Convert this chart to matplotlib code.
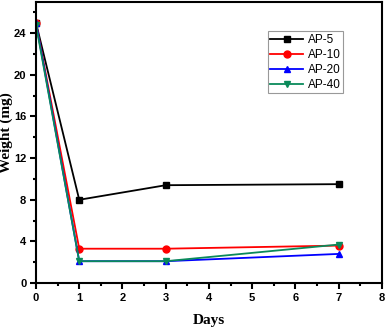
import matplotlib.pyplot as plt
from matplotlib.ticker import MultipleLocator

days = [0, 1, 3, 7]
ap5 = [25.0, 8.0, 9.4, 9.5]
ap10 = [25.0, 3.3, 3.3, 3.6]
ap20 = [25.0, 2.1, 2.1, 2.8]
ap40 = [24.8, 2.1, 2.1, 3.7]

series = [
    ('AP-5', ap5, 'black', 's'),
    ('AP-10', ap10, 'red', 'o'),
    ('AP-20', ap20, 'blue', '^'),
    ('AP-40', ap40, '#0a8a5a', 'v'),
]

fig = plt.figure(figsize=(3.87, 3.28), dpi=100)
ax = fig.add_axes([0.093, 0.137, 0.894, 0.857])

for name, vals, col, mk in series:
    ax.plot(days, vals, color=col, marker=mk, markersize=5, linewidth=1.3, label=name)

ax.set_xlim(0, 8)
ax.set_ylim(0, 27)
ax.xaxis.set_major_locator(MultipleLocator(1))
ax.xaxis.set_minor_locator(MultipleLocator(0.5))
ax.yaxis.set_major_locator(MultipleLocator(4))
ax.yaxis.set_minor_locator(MultipleLocator(2))
ax.tick_params(which='both', direction='out', width=1.5, top=False, right=False)
ax.tick_params(which='major', length=4, pad=3)
ax.tick_params(which='minor', length=2.5)
for s in ax.spines.values():
    s.set_linewidth(1.5)
for lab in ax.get_xticklabels() + ax.get_yticklabels():
    lab.set_fontfamily('Liberation Sans')
    lab.set_fontweight('bold')
    lab.set_fontsize(8)

ax.set_xlabel('Days', fontfamily='Liberation Serif', fontweight='bold', fontsize=11)
ax.set_ylabel('Weight (mg)', fontfamily='Liberation Serif', fontweight='bold', fontsize=11)
ax.xaxis.set_label_coords(0.5, -0.11)
ax.yaxis.set_label_coords(-0.066, 0.535)

leg = ax.legend(loc='upper left', bbox_to_anchor=(0.67, 0.895), fancybox=False, edgecolor='gray',
                prop={'family': 'Liberation Sans', 'size': 8.5}, handlelength=2.8,
                labelspacing=0.25, borderpad=0.2, handletextpad=0.4, borderaxespad=0)
leg.get_frame().set_linewidth(0.8)

fig.savefig('out.png', dpi=100)
